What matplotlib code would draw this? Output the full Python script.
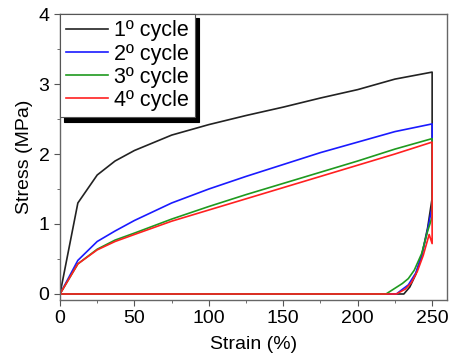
import numpy as np
from matplotlib import pyplot as plt

plt.rcParams['font.family'] = ['Liberation Sans', 'DejaVu Sans']

# loading branches
strain_load = [0, 12, 25, 37, 50, 75, 100, 125, 150, 175, 200, 225, 250]
stress_load_1 = [0, 1.30, 1.70, 1.90, 2.05, 2.27, 2.42, 2.55, 2.67, 2.80, 2.92, 3.07, 3.17]
stress_load_2 = [0, 0.48, 0.75, 0.90, 1.05, 1.30, 1.50, 1.68, 1.85, 2.02, 2.17, 2.32, 2.43]
stress_load_3 = [0, 0.43, 0.64, 0.77, 0.87, 1.07, 1.25, 1.42, 1.58, 1.74, 1.90, 2.07, 2.22]
stress_load_4 = [0, 0.43, 0.63, 0.75, 0.85, 1.04, 1.20, 1.36, 1.52, 1.68, 1.84, 2.00, 2.17]

# unloading branches (from 250 % back to 0 %)
strain_unload_1 = [250, 250, 247, 243, 239, 235, 231, 0]
stress_unload_1 = [3.17, 1.37, 0.95, 0.55, 0.28, 0.10, 0, 0]
strain_unload_2 = [250, 250, 247, 243, 239, 234, 229, 226, 0]
stress_unload_2 = [2.43, 1.25, 0.92, 0.55, 0.30, 0.13, 0.05, 0, 0]
strain_unload_3 = [250, 250, 247, 243, 238, 234, 230, 219, 0]
stress_unload_3 = [2.22, 1.10, 0.90, 0.58, 0.34, 0.22, 0.15, 0, 0]
strain_unload_4 = [250, 250, 248, 244, 240, 236, 232, 226, 0]
stress_unload_4 = [2.17, 0.72, 0.85, 0.55, 0.32, 0.16, 0.07, 0, 0]

labels = ['1º cycle', '2º cycle', '3º cycle', '4º cycle']
colors = ['#222222', '#1a1aff', '#1f9a1f', '#ff2020']

loads = [stress_load_1, stress_load_2, stress_load_3, stress_load_4]
unloads = [(strain_unload_1, stress_unload_1), (strain_unload_2, stress_unload_2),
           (strain_unload_3, stress_unload_3), (strain_unload_4, stress_unload_4)]

fig = plt.figure(figsize=(4.49, 3.64), dpi=100)
ax = fig.add_axes([0.1336, 0.1758, 0.862, 0.7857])

for load, (ux, uy), lab, col in zip(loads, unloads, labels, colors):
    ax.plot(strain_load + ux, load + uy, color=col, lw=1.2, label=lab)

ax.set_xlim(0, 260)
ax.set_ylim(-0.086, 4)
ax.set_xticks([0, 50, 100, 150, 200, 250])
ax.set_xticks(np.arange(25, 260, 50), minor=True)
ax.set_yticks([0, 1, 2, 3, 4])
ax.set_yticks([0.5, 1.5, 2.5, 3.5], minor=True)
ax.tick_params(which='both', direction='out', top=False, right=False,
               labelsize=14, color='#555555')
ax.tick_params(which='major', length=4)
ax.tick_params(which='minor', length=2.5)
for s in ax.spines.values():
    s.set_color('#666666')
    s.set_linewidth(1.0)

ax.set_xlabel('Strain (%)', fontsize=14, labelpad=6)
ax.set_ylabel('Stress (MPa)', fontsize=14, labelpad=4)

leg = ax.legend(loc='upper left', fontsize=15.5, frameon=True,
                shadow={'color': 'black', 'alpha': 1, 'ox': 3, 'oy': -3},
                fancybox=False, handlelength=1.95, handletextpad=0.25, labelspacing=0.1,
                borderpad=0.3, borderaxespad=0.0)
leg.get_frame().set_edgecolor('#555555')
leg.get_frame().set_linewidth(0.8)

fig.savefig('out.png', dpi=100)
